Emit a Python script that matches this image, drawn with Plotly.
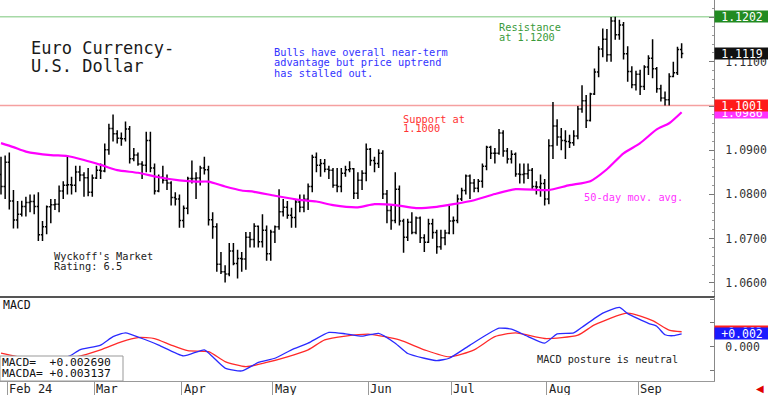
import math
import pandas as pd
import plotly.graph_objects as go

W, H = 768, 395
MONO = "DejaVu Sans Mono"

# ---------------- data ----------------
dates = pd.bdate_range("2024-01-30", "2024-09-16")

opens = [1.0845,1.0818,1.0873,1.0785,1.0742,1.0755,1.0773,1.0782,1.0784,1.0773,
         1.0709,1.0727,1.0772,1.0777,1.0778,1.0808,1.0821,1.0822,1.0821,1.0851,
         1.0844,1.0838,1.0805,1.0837,1.0855,1.0853,1.0901,1.0949,1.0937,1.0927,
         1.0926,1.0948,1.0881,1.0889,1.0869,1.0866,1.0922,1.0860,1.0808,1.0839,
         1.0832,1.0826,1.0793,1.0790,1.0741,1.0769,1.0836,1.0836,1.0837,1.0860,
         1.0856,1.0743,1.0727,1.0642,1.0625,1.0620,1.0672,1.0644,1.0655,1.0654,
         1.0703,1.0698,1.0728,1.0693,1.0719,1.0666,1.0715,1.0727,1.0761,1.0771,
         1.0753,1.0748,1.0783,1.0771,1.0789,1.0818,1.0884,1.0866,1.0870,1.0857,
         1.0855,1.0821,1.0818,1.0848,1.0856,1.0858,1.0803,1.0832,1.0848,1.0902,
         1.0877,1.0870,1.0893,1.0801,1.0764,1.0741,1.0812,1.0740,1.0703,1.0737,
         1.0714,1.0747,1.0702,1.0692,1.0734,1.0714,1.0682,1.0702,1.0713,1.0740,
         1.0741,1.0790,1.0809,1.0842,1.0826,1.0814,1.0830,1.0864,1.0907,1.0893,
         1.0893,1.0939,1.0898,1.0880,1.0891,1.0846,1.0845,1.0847,1.0855,1.0818,
         1.0817,1.0825,1.0790,1.0910,1.0955,1.0930,1.0922,1.0920,1.0917,1.0932,
         1.0993,1.1012,1.0967,1.1027,1.1077,1.1129,1.1151,1.1116,1.1192,1.1161,
         1.1183,1.1118,1.1078,1.1048,1.1072,1.1044,1.1088,1.1108,1.1084,1.1039,
         1.1018,1.1014,1.1067,1.1075,1.1128]
highs = [1.0885,1.0888,1.0895,1.0810,1.0785,1.0786,1.0795,1.0800,1.0800,1.0805,
         1.0740,1.0775,1.0790,1.0790,1.0820,1.0830,1.0888,1.0840,1.0865,1.0865,
         1.0850,1.0860,1.0845,1.0865,1.0870,1.0915,1.0960,1.0981,1.0945,1.0940,
         1.0965,1.0955,1.0905,1.0895,1.0875,1.0942,1.0942,1.0870,1.0845,1.0865,
         1.0845,1.0830,1.0805,1.0800,1.0775,1.0840,1.0877,1.0850,1.0865,1.0885,
         1.0865,1.0760,1.0735,1.0670,1.0640,1.0690,1.0690,1.0675,1.0670,1.0715,
         1.0715,1.0735,1.0730,1.0755,1.0730,1.0720,1.0730,1.0812,1.0790,1.0785,
         1.0770,1.0790,1.0800,1.0800,1.0825,1.0890,1.0895,1.0880,1.0880,1.0865,
         1.0860,1.0860,1.0860,1.0865,1.0875,1.0860,1.0850,1.0855,1.0915,1.0905,
         1.0885,1.0902,1.0900,1.0810,1.0775,1.0850,1.0820,1.0745,1.0745,1.0760,
         1.0750,1.0750,1.0710,1.0745,1.0745,1.0720,1.0720,1.0720,1.0775,1.0750,
         1.0800,1.0815,1.0845,1.0845,1.0835,1.0835,1.0870,1.0910,1.0910,1.0905,
         1.0948,1.0945,1.0905,1.0900,1.0895,1.0870,1.0870,1.0870,1.0860,1.0830,
         1.0845,1.0835,1.0925,1.1009,1.0970,1.0950,1.0945,1.0935,1.0945,1.1000,
         1.1047,1.1025,1.1030,1.1085,1.1135,1.1175,1.1174,1.1201,1.1202,1.1195,
         1.1190,1.1135,1.1090,1.1080,1.1082,1.1092,1.1115,1.1151,1.1088,1.1048,
         1.1033,1.1074,1.1100,1.1134,1.1142]
lows = [1.0800,1.0790,1.0766,1.0723,1.0723,1.0750,1.0750,1.0760,1.0755,1.0695,
        1.0695,1.0710,1.0735,1.0765,1.0760,1.0790,1.0800,1.0800,1.0805,1.0830,
        1.0795,1.0796,1.0795,1.0835,1.0835,1.0850,1.0890,1.0920,1.0915,1.0910,
        1.0920,1.0870,1.0875,1.0865,1.0835,1.0850,1.0850,1.0800,1.0805,1.0825,
        1.0810,1.0775,1.0775,1.0725,1.0725,1.0755,1.0825,1.0790,1.0820,1.0845,
        1.0730,1.0700,1.0625,1.0620,1.0601,1.0615,1.0640,1.0610,1.0625,1.0630,
        1.0680,1.0680,1.0680,1.0680,1.0650,1.0650,1.0690,1.0720,1.0750,1.0745,
        1.0725,1.0725,1.0760,1.0760,1.0765,1.0805,1.0850,1.0840,1.0850,1.0835,
        1.0815,1.0805,1.0805,1.0840,1.0850,1.0790,1.0790,1.0810,1.0830,1.0865,
        1.0850,1.0860,1.0790,1.0735,1.0720,1.0735,1.0730,1.0668,1.0695,1.0710,
        1.0710,1.0690,1.0670,1.0690,1.0700,1.0666,1.0675,1.0685,1.0710,1.0710,
        1.0735,1.0785,1.0800,1.0790,1.0805,1.0805,1.0815,1.0855,1.0880,1.0870,
        1.0890,1.0885,1.0870,1.0870,1.0840,1.0825,1.0825,1.0835,1.0810,1.0800,
        1.0795,1.0775,1.0778,1.0880,1.0910,1.0900,1.0880,1.0905,1.0910,1.0925,
        1.0985,1.0950,1.0965,1.1025,1.1065,1.1110,1.1100,1.1100,1.1150,1.1150,
        1.1105,1.1055,1.1040,1.1035,1.1025,1.1036,1.1070,1.1063,1.1030,1.1010,
        1.1001,1.1001,1.1065,1.1070,1.1108]
closes = [1.0818,1.0873,1.0785,1.0742,1.0755,1.0773,1.0782,1.0784,1.0773,1.0709,
          1.0727,1.0772,1.0777,1.0778,1.0808,1.0821,1.0822,1.0821,1.0851,1.0844,
          1.0838,1.0805,1.0837,1.0855,1.0853,1.0901,1.0949,1.0937,1.0927,1.0926,
          1.0948,1.0881,1.0889,1.0869,1.0866,1.0922,1.0860,1.0808,1.0839,1.0832,
          1.0826,1.0793,1.0790,1.0741,1.0769,1.0836,1.0836,1.0837,1.0860,1.0856,
          1.0743,1.0727,1.0642,1.0625,1.0620,1.0672,1.0644,1.0655,1.0654,1.0703,
          1.0698,1.0728,1.0693,1.0719,1.0666,1.0715,1.0727,1.0761,1.0771,1.0753,
          1.0748,1.0783,1.0771,1.0789,1.0818,1.0884,1.0866,1.0870,1.0857,1.0855,
          1.0821,1.0818,1.0848,1.0856,1.0858,1.0803,1.0832,1.0848,1.0902,1.0877,
          1.0870,1.0893,1.0801,1.0764,1.0741,1.0812,1.0740,1.0703,1.0737,1.0714,
          1.0747,1.0702,1.0692,1.0734,1.0714,1.0682,1.0702,1.0713,1.0740,1.0741,
          1.0790,1.0809,1.0842,1.0826,1.0814,1.0830,1.0864,1.0907,1.0893,1.0893,
          1.0939,1.0898,1.0880,1.0891,1.0846,1.0845,1.0847,1.0855,1.0818,1.0817,
          1.0825,1.0790,1.0910,1.0955,1.0930,1.0922,1.0920,1.0917,1.0932,1.0993,
          1.1012,1.0967,1.1027,1.1077,1.1129,1.1151,1.1116,1.1192,1.1161,1.1183,
          1.1118,1.1078,1.1048,1.1072,1.1044,1.1088,1.1108,1.1084,1.1039,1.1018,
          1.1014,1.1067,1.1075,1.1128,1.1119]

ma_dates = ["2024-01-30","2024-02-02","2024-02-07","2024-02-15","2024-02-21","2024-02-27",
            "2024-03-04","2024-03-08","2024-03-15","2024-03-22","2024-03-29","2024-04-04",
            "2024-04-09","2024-04-15","2024-04-19","2024-04-24","2024-05-01","2024-05-08",
            "2024-05-15","2024-05-21","2024-05-29","2024-06-04","2024-06-11","2024-06-18",
            "2024-06-25","2024-07-01","2024-07-08","2024-07-15","2024-07-22","2024-07-30",
            "2024-08-01","2024-08-08","2024-08-15","2024-08-21","2024-08-27","2024-09-02",
            "2024-09-06","2024-09-11","2024-09-16"]
ma_values = [1.0916,1.0907,1.0897,1.0889,1.0887,1.0878,1.0867,1.0855,1.0849,1.0839,
             1.0832,1.0829,1.0829,1.0818,1.0809,1.0806,1.0797,1.0789,1.0784,1.0776,
             1.0771,1.0778,1.0776,1.0769,1.0772,1.0778,1.0787,1.0801,1.0812,1.0810,
             1.0810,1.0821,1.0830,1.0857,1.0893,1.0916,1.0947,1.0961,1.0986]

macd_dates = ["2024-01-30","2024-02-05","2024-02-09","2024-02-15","2024-02-19","2024-02-22",
              "2024-02-26","2024-03-04","2024-03-07","2024-03-12","2024-03-18","2024-03-22",
              "2024-04-01","2024-04-08","2024-04-10","2024-04-15","2024-04-19","2024-04-25",
              "2024-05-01","2024-05-07","2024-05-13","2024-05-20","2024-05-24","2024-05-30",
              "2024-06-05","2024-06-11","2024-06-14","2024-06-20","2024-06-25","2024-06-28",
              "2024-07-05","2024-07-11","2024-07-16","2024-07-19","2024-07-25","2024-07-31",
              "2024-08-05","2024-08-09","2024-08-13","2024-08-20","2024-08-26","2024-08-28",
              "2024-09-04","2024-09-06","2024-09-10","2024-09-12","2024-09-16"]
macd_values = [-0.0028,-0.0040,-0.0042,-0.0035,-0.0028,-0.0018,-0.0007,0.0003,0.0021,0.0029,
               0.0017,0.0003,-0.0020,-0.0007,-0.0022,-0.0046,-0.0052,-0.0034,-0.0025,-0.0007,
               0.0007,0.0030,0.0027,0.0022,0.0028,0.0007,-0.0015,-0.0025,-0.0030,-0.0025,
               0.0003,0.0025,0.0039,0.0037,0.0021,0.0007,0.0027,0.0029,0.0041,0.0071,
               0.0083,0.0070,0.0049,0.0043,0.0025,0.0023,0.002690]

signal_dates = ["2024-01-30","2024-02-07","2024-02-15","2024-02-23","2024-03-04","2024-03-11",
                "2024-03-15","2024-03-21","2024-03-27","2024-04-02","2024-04-09","2024-04-15",
                "2024-04-22","2024-04-29","2024-05-06","2024-05-13","2024-05-17","2024-05-24",
                "2024-06-03","2024-06-12","2024-06-20","2024-06-28","2024-07-08","2024-07-15",
                "2024-07-22","2024-07-31","2024-08-12","2024-08-16","2024-08-28","2024-09-05",
                "2024-09-11","2024-09-16"]
signal_values = [-0.0014,-0.0025,-0.0028,-0.0022,-0.0007,0.0010,0.0019,0.0017,0.0003,-0.0009,
                 -0.0011,-0.0032,-0.0043,-0.0034,-0.0022,-0.0007,0.0014,0.0022,0.0026,0.0014,
                 -0.0007,-0.0022,-0.0007,0.0021,0.0029,0.0017,0.0024,0.0046,0.0071,0.0055,
                 0.0035,0.003137]

month_labels = ["Feb 24", "Mar", "Apr", "May", "Jun", "Jul", "Aug", "Sep"]
resistance = 1.1202
support = 1.1001

# ---------------- derived positions ----------------
idx = {d.strftime("%Y-%m-%d"): i for i, d in enumerate(dates)}
xs = list(range(len(dates)))
ma_x = [idx[d] for d in ma_dates]
macd_x = [idx[d] for d in macd_dates]
sig_x = [idx[d] for d in signal_dates]
month_starts = [i for i in range(1, len(dates)) if dates[i].month != dates[i - 1].month]
tick_pos = [i - 0.5 for i in month_starts]

PLOT_R = 714 / W
XR = [-0.24, 171.8]

fig = go.Figure()
fig.add_trace(go.Ohlc(
    x=xs, open=opens, high=highs, low=lows, close=closes,
    increasing=dict(line=dict(color="#000000", width=1.5)),
    decreasing=dict(line=dict(color="#000000", width=1.5)),
    tickwidth=0.4, xaxis="x", yaxis="y", hoverinfo="skip", showlegend=False))
fig.add_trace(go.Scatter(
    x=ma_x, y=ma_values, mode="lines", xaxis="x", yaxis="y",
    line=dict(color="#ff00ff", width=2.2, shape="spline", smoothing=0.6),
    hoverinfo="skip", showlegend=False))
fig.add_trace(go.Scatter(
    x=sig_x, y=signal_values, mode="lines", xaxis="x2", yaxis="y2",
    line=dict(color="#ff2a2a", width=1.3, shape="spline", smoothing=0.6),
    hoverinfo="skip", showlegend=False))
fig.add_trace(go.Scatter(
    x=macd_x, y=macd_values, mode="lines", xaxis="x2", yaxis="y2",
    line=dict(color="#2a2aff", width=1.3, shape="spline", smoothing=0.5),
    hoverinfo="skip", showlegend=False))

tickfont = dict(family=MONO, size=11.5, color="#333333")
fig.update_layout(
    width=W, height=H, margin=dict(l=0, r=0, t=0, b=0, autoexpand=False),
    paper_bgcolor="white", plot_bgcolor="white", showlegend=False,
    xaxis=dict(domain=[0, PLOT_R], range=XR, anchor="y", showgrid=False, zeroline=False,
               showticklabels=False, ticks="", showline=True, linecolor="#555555",
               linewidth=2, rangeslider=dict(visible=False), automargin=False),
    yaxis=dict(domain=[1 - 296 / H, 1], range=[1.05704, 1.12397], side="right",
               anchor="x", showgrid=False, zeroline=False, showline=True,
               linecolor="#888888", linewidth=1, ticks="inside", ticklen=5,
               tickcolor="#777777", tick0=1.0, dtick=0.01, tickformat=".4f",
               tickfont=tickfont, ticklabelstandoff=8, automargin=False,
               minor=dict(ticks="inside", ticklen=2, dtick=0.002, tickcolor="#999999")),
    xaxis2=dict(domain=[0, PLOT_R], range=XR, anchor="y2", showgrid=False, zeroline=False,
                tickmode="array", tickvals=tick_pos, ticktext=[""] * len(tick_pos),
                ticks="outside", ticklen=14, tickcolor="#999999", showline=True,
                linecolor="#999999", linewidth=1, automargin=False),
    yaxis2=dict(domain=[1 - 381 / H, 1 - 297 / H], range=[-0.00734, 0.01053],
                side="right", anchor="x2", showgrid=False, zeroline=False,
                showline=True, linecolor="#888888", linewidth=1,
                tickmode="array", tickvals=[-0.005, 0, 0.005, 0.01],
                ticktext=["", "0.000", "", ""], ticks="inside", ticklen=4,
                tickcolor="#777777", tickfont=tickfont, ticklabelstandoff=8,
                automargin=False),
)

fig.add_shape(type="line", xref="x domain", yref="y", x0=0, x1=1,
              y0=resistance, y1=resistance, line=dict(color="#a6d9a6", width=1.5), layer="below")
fig.add_shape(type="line", xref="x domain", yref="y", x0=0, x1=1,
              y0=support, y1=support, line=dict(color="#f5a0a0", width=1.5), layer="below")
fig.add_shape(type="rect", xref="paper", yref="paper", x0=0, x1=123 / W,
              y0=1 - 381 / H, y1=1 - 356 / H, fillcolor="white",
              line=dict(color="#999999", width=1), layer="above")


def txt(text, px, py, size, color, xanchor="left", family=MONO):
    fig.add_annotation(text=text, x=px / W, y=1 - py / H, xref="paper", yref="paper",
                       xanchor=xanchor, yanchor="middle", showarrow=False,
                       font=dict(family=family, size=size, color=color))


def tag(text, yval, yref, bg):
    fig.add_annotation(text=text, x=PLOT_R, xref="paper", y=yval, yref=yref,
                       xanchor="left", yanchor="middle", showarrow=False, bgcolor=bg,
                       width=54, height=11, borderpad=0, align="center",
                       font=dict(family=MONO, size=11.5, color="white"))


txt("Euro Currency-", 29, 48, 17, "#1a1a1a")
txt("U.S. Dollar", 29, 66, 17, "#1a1a1a")
for i, line in enumerate(["Bulls have overall near-term", "advantage but price uptrend",
                          "has stalled out."]):
    txt(line, 272, 52 + 10.3 * i, 10.3, "#3333ff")
txt("Resistance", 497, 27, 10.3, "#3a9a3a")
txt("at 1.1200", 497, 37, 10.3, "#3a9a3a")
txt("Support at", 401, 118.5, 10.3, "#ff3333")
txt("1.1000", 401, 128.5, 10.3, "#ff3333")
txt("50-day mov. avg.", 582, 197, 10.3, "#ff33ff")
txt("Wyckoff's Market", 52, 256, 10.3, "#222222")
txt("Rating: 6.5", 52, 266, 10.3, "#222222")
txt("MACD", 1, 305, 11.5, "#111111")
txt("MACD posture is neutral", 535, 359.5, 10.2, "#222222")
txt(f"MACD=  {macd_values[-1]:+.6f}", 0, 362, 11.3, "#111111")
txt(f"MACDA= {signal_values[-1]:+.6f}", 0, 373, 11.3, "#111111")
txt("\u25c0", 760, 388, 10, "#e00000", xanchor="center", family="DejaVu Sans")

for pos, lab in zip(tick_pos, month_labels):
    fig.add_annotation(text=lab, x=pos, xref="x2", y=1 - 388.5 / H, yref="paper",
                       xanchor="left", yanchor="middle", showarrow=False, xshift=0,
                       font=dict(family=MONO, size=12, color="#222222"))

tag(f"{ma_values[-1]:.4f}", ma_values[-1], "y", "#ff33ff")
tag(f"{support:.4f}", support, "y", "#ff1a1a")
tag(f"{closes[-1]:.4f}", closes[-1], "y", "#111111")
tag(f"{resistance:.4f}", resistance, "y", "#228b22")


def trunc3(v):
    return f"{'+' if v >= 0 else '-'}{math.floor(abs(v) * 1000) / 1000:.3f}"


tag(trunc3(signal_values[-1]), signal_values[-1], "y2", "#ff2020")
tag(trunc3(macd_values[-1]), macd_values[-1], "y2", "#1a1aff")

fig.write_html(
    "out.html",
    config={"displayModeBar": False},
    post_script="document.body.style.margin='0px';document.body.style.padding='0px';",
)
